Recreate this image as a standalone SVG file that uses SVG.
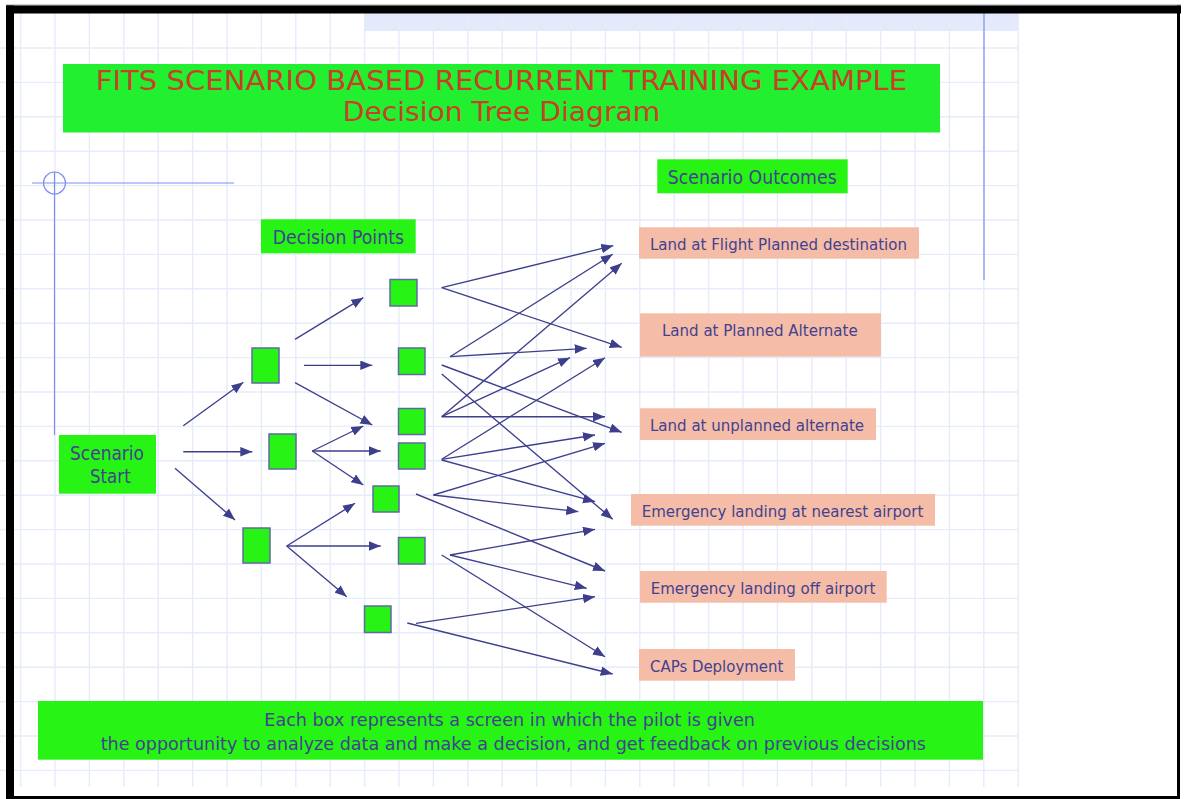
<svg xmlns="http://www.w3.org/2000/svg" width="1184" height="799" viewBox="0 0 1184 799">
<style>
.grid{stroke:#e7ecfa;stroke-width:1.4;fill:none}
.deco{stroke:#7b8fef;stroke-width:1.2;fill:none}
.dec{fill:#27f415;stroke:#5f6aa3;stroke-width:1.5}
.lbl{fill:#27f415}
.out{fill:#f5bca8}
.t{font-family:"DejaVu Sans","Liberation Sans",sans-serif;fill:#42428e}
.title{font-family:"DejaVu Sans","Liberation Sans",sans-serif;fill:#c8402a;font-size:26px}
.conn line{stroke:#3d3f8c;stroke-width:1.35;marker-end:url(#ah)}
</style>
<defs>
<marker id="ah" markerUnits="userSpaceOnUse" markerWidth="13" markerHeight="10" refX="12" refY="4.75" orient="auto">
<path d="M0,0 L12,4.75 L0,9.5 z" fill="#3d3f8c"/>
</marker>
</defs>
<rect width="1184" height="799" fill="#ffffff"/>
<g id="background">
<rect x="364" y="13" width="654" height="18" fill="#e4e9fb"/>
<path class="grid" d="M20.6,13V787M55,13V787M89.4,13V787M123.8,13V787M158.2,13V787M192.6,13V787M227,13V787M261.4,13V787M295.8,13V787M330.2,13V787M364.6,13V787M399,13V787M433.4,13V787M467.8,13V787M502.2,13V787M536.6,13V787M571,13V787M605.4,13V787M639.8,13V787M674.2,13V787M708.6,13V787M743,13V787M777.4,13V787M811.8,13V787M846.2,13V787M880.6,13V787M915,13V787M949.4,13V787M983.8,13V787M1018.2,13V787
M0,48H1018M0,82.4H1018M0,116.8H1018M0,151.2H1018M0,185.6H1018M0,220H1018M0,254.4H1018M0,288.8H1018M0,323.2H1018M0,357.6H1018M0,392H1018M0,426.4H1018M0,460.8H1018M0,495.2H1018M0,529.6H1018M0,564H1018M0,598.4H1018M0,632.8H1018M0,667.2H1018M0,701.6H1018M0,736H1018M0,770.4H1018"/>
<line class="deco" x1="984" y1="13" x2="984" y2="280"/>
<line class="deco" x1="32" y1="183" x2="234" y2="183"/>
<line class="deco" x1="54.5" y1="172" x2="54.5" y2="435"/>
<circle class="deco" cx="54.5" cy="183" r="11"/>
<line x1="6" y1="5" x2="1181" y2="5" stroke="#9a9a9a" stroke-width="1"/>
<rect x="6" y="5.5" width="1175" height="8" fill="#000"/>
<rect x="6" y="5.5" width="8" height="793.5" fill="#000"/>
<rect x="1177" y="5.5" width="3" height="793.5" fill="#000"/>
<rect x="6" y="796" width="1174" height="3" fill="#000"/>
</g>
<g id="title">
<rect x="63" y="64" width="877" height="68.5" fill="#21ef2f"/>
<text class="title" x="95.7" y="90" textLength="811.5" lengthAdjust="spacingAndGlyphs">FITS SCENARIO BASED RECURRENT TRAINING EXAMPLE</text>
<text class="title" x="342.7" y="120.7" textLength="317.5" lengthAdjust="spacingAndGlyphs">Decision Tree Diagram</text>
</g>
<g id="label-decision-points">
<rect class="lbl" x="261" y="219.3" width="154.7" height="34"/>
<text class="t" x="272.7" y="244" font-size="19" textLength="131.3" lengthAdjust="spacingAndGlyphs">Decision Points</text>
</g>
<g id="label-scenario-outcomes">
<rect class="lbl" x="657.3" y="159.3" width="190.4" height="34"/>
<text class="t" x="667.7" y="184" font-size="19" textLength="169" lengthAdjust="spacingAndGlyphs">Scenario Outcomes</text>
</g>
<g id="scenario-start">
<rect class="lbl" x="59" y="435" width="97" height="58.7"/>
<text class="t" x="70" y="460" font-size="19" textLength="74" lengthAdjust="spacingAndGlyphs">Scenario</text>
<text class="t" x="90" y="483" font-size="19" textLength="40.7" lengthAdjust="spacingAndGlyphs">Start</text>
</g>
<g id="d1-1"><rect class="dec" x="252" y="348" width="27" height="35"/></g>
<g id="d1-2"><rect class="dec" x="269" y="434" width="27" height="35"/></g>
<g id="d1-3"><rect class="dec" x="243" y="528" width="27" height="35"/></g>
<g id="d2-a"><rect class="dec" x="390" y="279.5" width="27" height="26.5"/></g>
<g id="d2-b"><rect class="dec" x="398.5" y="348" width="26.5" height="26.5"/></g>
<g id="d2-c"><rect class="dec" x="398.5" y="408.5" width="26.5" height="26"/></g>
<g id="d2-d"><rect class="dec" x="398.5" y="443" width="26.5" height="26"/></g>
<g id="d2-e"><rect class="dec" x="373" y="486" width="26" height="26"/></g>
<g id="d2-f"><rect class="dec" x="398.5" y="537.5" width="26.5" height="26.5"/></g>
<g id="d2-g"><rect class="dec" x="364.5" y="606" width="26.5" height="26.5"/></g>
<g id="out-1">
<rect class="out" x="639" y="227.3" width="280" height="31.4"/>
<text class="t" x="650" y="250" font-size="16" textLength="257" lengthAdjust="spacingAndGlyphs">Land at Flight Planned destination</text>
</g>
<g id="out-2">
<rect class="out" x="640" y="313.3" width="241" height="43.4"/>
<text class="t" x="662" y="336" font-size="16" textLength="195.7" lengthAdjust="spacingAndGlyphs">Land at Planned Alternate</text>
</g>
<g id="out-3">
<rect class="out" x="640" y="408.3" width="236" height="31.7"/>
<text class="t" x="650" y="430.7" font-size="16" textLength="214" lengthAdjust="spacingAndGlyphs">Land at unplanned alternate</text>
</g>
<g id="out-4">
<rect class="out" x="631" y="494" width="304" height="31.7"/>
<text class="t" x="641.7" y="517.3" font-size="16" textLength="281.6" lengthAdjust="spacingAndGlyphs">Emergency landing at nearest airport</text>
</g>
<g id="out-5">
<rect class="out" x="640" y="571" width="246.7" height="31.7"/>
<text class="t" x="650.7" y="594" font-size="16" textLength="224.6" lengthAdjust="spacingAndGlyphs">Emergency landing off airport</text>
</g>
<g id="out-6">
<rect class="out" x="639" y="649" width="156" height="31.7"/>
<text class="t" x="650" y="672.3" font-size="16" textLength="133.3" lengthAdjust="spacingAndGlyphs">CAPs Deployment</text>
</g>
<g id="footnote">
<rect class="lbl" x="38" y="701" width="945" height="58.7"/>
<text class="t" x="264.3" y="725.7" font-size="18" textLength="490.7" lengthAdjust="spacingAndGlyphs">Each box represents a screen in which the pilot is given</text>
<text class="t" x="100.7" y="750" font-size="18" textLength="825.3" lengthAdjust="spacingAndGlyphs">the opportunity to analyze data and make a decision, and get feedback on previous decisions</text>
</g>
<g id="connectors" class="conn">
<line x1="183.3" y1="425.7" x2="243.3" y2="382.3"/>
<line x1="183.3" y1="451.7" x2="252.3" y2="451.7"/>
<line x1="175" y1="468.3" x2="235" y2="520"/>
<line x1="295" y1="339.3" x2="363.3" y2="297.7"/>
<line x1="304" y1="365.3" x2="372.3" y2="365.3"/>
<line x1="295" y1="382.7" x2="372.3" y2="425"/>
<line x1="312.3" y1="451" x2="363.3" y2="426"/>
<line x1="312.3" y1="451" x2="380.7" y2="451"/>
<line x1="312.3" y1="451" x2="363.3" y2="485"/>
<line x1="286.7" y1="546" x2="355" y2="503.3"/>
<line x1="286.7" y1="546" x2="380.7" y2="546"/>
<line x1="286.7" y1="546" x2="346.7" y2="596.7"/>
<line x1="441.7" y1="287.7" x2="613.3" y2="245.7"/>
<line x1="441.7" y1="287.7" x2="621.7" y2="347.3"/>
<line x1="450" y1="356.7" x2="612.7" y2="254.3"/>
<line x1="450" y1="356.7" x2="586.7" y2="348.3"/>
<line x1="441.7" y1="365" x2="621.7" y2="432.3"/>
<line x1="441.7" y1="374" x2="612.7" y2="519.3"/>
<line x1="441.7" y1="416.7" x2="621.7" y2="263.3"/>
<line x1="441.7" y1="416.7" x2="570" y2="357.7"/>
<line x1="441.7" y1="416.7" x2="605" y2="416.7"/>
<line x1="441.7" y1="459.3" x2="605" y2="357.7"/>
<line x1="441.7" y1="459.3" x2="595" y2="435"/>
<line x1="441.7" y1="460" x2="595" y2="501.7"/>
<line x1="433.3" y1="495" x2="605" y2="443.3"/>
<line x1="433.3" y1="495" x2="578.3" y2="511.7"/>
<line x1="416" y1="494" x2="605" y2="571"/>
<line x1="450" y1="555" x2="595" y2="529.3"/>
<line x1="450" y1="555" x2="586.7" y2="588.3"/>
<line x1="441.7" y1="555" x2="605" y2="656.7"/>
<line x1="416" y1="623.3" x2="595" y2="596.7"/>
<line x1="407.3" y1="623" x2="612.7" y2="674"/>
</g>
</svg>
